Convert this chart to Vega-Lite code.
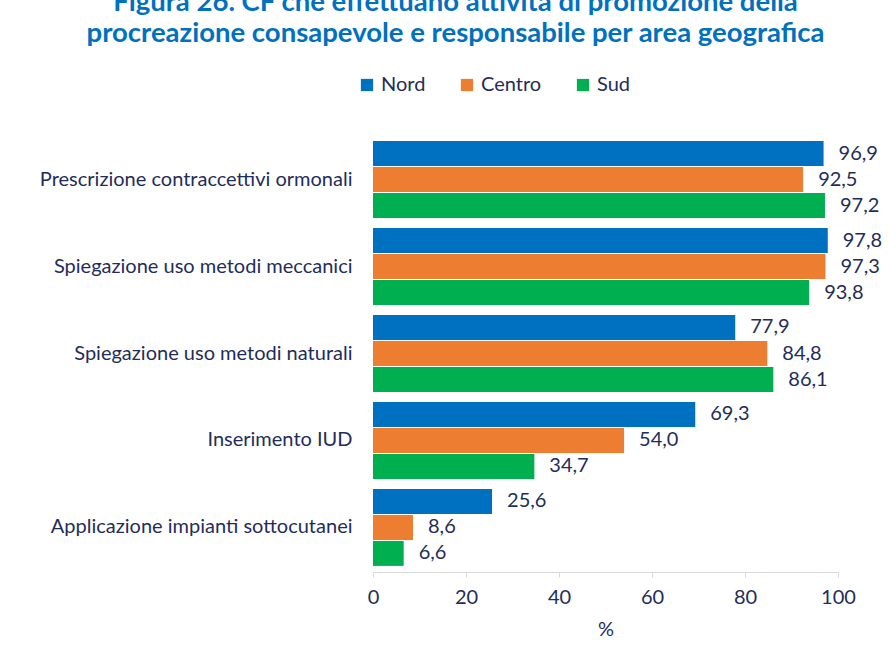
{
  "$schema": "https://vega.github.io/schema/vega-lite/v6.json",
  "autosize": "none",
  "width": 465,
  "height": 437,
  "padding": {"left": 373, "top": 135, "right": 51, "bottom": 85},
  "background": "white",
  "config": {
    "locale": {"number": {"decimal": ",", "thousands": ".", "grouping": [3], "currency": ["€", ""]}},
    "font": "Lato",
    "view": {"stroke": null}
  },
  "title": {
    "text": ["Figura 26. CF che effettuano attività di promozione della", "procreazione consapevole e responsabile per area geografica"],
    "anchor": "middle",
    "frame": "group",
    "dx": -150,
    "offset": 28,
    "fontSize": 27.5,
    "fontWeight": "bold",
    "color": "#0070C0",
    "lineHeight": 31,
    "font": "Lato"
  },
  "data": {
    "values": [
      {"categoria": "Prescrizione contraccettivi ormonali", "area": "Nord", "valore": 96.9},
      {"categoria": "Prescrizione contraccettivi ormonali", "area": "Centro", "valore": 92.5},
      {"categoria": "Prescrizione contraccettivi ormonali", "area": "Sud", "valore": 97.2},
      {"categoria": "Spiegazione uso metodi meccanici", "area": "Nord", "valore": 97.8},
      {"categoria": "Spiegazione uso metodi meccanici", "area": "Centro", "valore": 97.3},
      {"categoria": "Spiegazione uso metodi meccanici", "area": "Sud", "valore": 93.8},
      {"categoria": "Spiegazione uso  metodi naturali ", "area": "Nord", "valore": 77.9},
      {"categoria": "Spiegazione uso  metodi naturali ", "area": "Centro", "valore": 84.8},
      {"categoria": "Spiegazione uso  metodi naturali ", "area": "Sud", "valore": 86.1},
      {"categoria": "Inserimento IUD", "area": "Nord", "valore": 69.3},
      {"categoria": "Inserimento IUD", "area": "Centro", "valore": 54.0},
      {"categoria": "Inserimento IUD", "area": "Sud", "valore": 34.7},
      {"categoria": "Applicazione impianti sottocutanei", "area": "Nord", "valore": 25.6},
      {"categoria": "Applicazione impianti sottocutanei", "area": "Centro", "valore": 8.6},
      {"categoria": "Applicazione impianti sottocutanei", "area": "Sud", "valore": 6.6}
    ]
  },
  "encoding": {
    "y": {
      "field": "categoria",
      "type": "nominal",
      "sort": null,
      "scale": {"paddingInner": 0.115, "paddingOuter": 0.07},
      "axis": {
        "title": null,
        "domain": false,
        "ticks": false,
        "labelPadding": 21,
        "labelFontSize": 20,
        "labelColor": "#1F2D5A",
        "labelFont": "Lato",
        "labelLimit": 400
      }
    },
    "yOffset": {
      "field": "area",
      "type": "nominal",
      "sort": ["Nord", "Centro", "Sud"],
      "scale": {"paddingInner": 0.04, "paddingOuter": 0}
    },
    "x": {
      "field": "valore",
      "type": "quantitative",
      "scale": {"domain": [0, 100], "nice": false},
      "axis": {
        "title": "%",
        "titleFontSize": 20,
        "titleFontWeight": "normal",
        "titleColor": "#1F2D5A",
        "titleFont": "Lato",
        "titlePadding": 12,
        "values": [0, 20, 40, 60, 80, 100],
        "format": "d",
        "grid": false,
        "labelFlush": false,
        "domainColor": "#D9D9D9",
        "tickColor": "#D9D9D9",
        "tickSize": 5,
        "labelPadding": 10,
        "labelFontSize": 20,
        "labelColor": "#1F2D5A",
        "labelFont": "Lato"
      }
    }
  },
  "layer": [
    {
      "mark": {"type": "bar"},
      "encoding": {
        "color": {
          "field": "area",
          "type": "nominal",
          "sort": ["Nord", "Centro", "Sud"],
          "scale": {"domain": ["Nord", "Centro", "Sud"], "range": ["#0070C0", "#ED7D31", "#00B050"]},
          "legend": {
            "title": null,
            "orient": "none",
            "direction": "horizontal",
            "legendX": -16,
            "legendY": -60,
            "symbolType": "square",
            "symbolSize": 150,
            "symbolStrokeWidth": 0,
            "labelFontSize": 20,
            "labelColor": "#1F2D5A",
            "labelFont": "Lato",
            "columnPadding": 31,
            "labelOffset": 4
          }
        }
      }
    },
    {
      "mark": {"type": "text", "align": "left", "dx": 15, "fontSize": 20, "color": "#1F2D5A", "font": "Lato"},
      "encoding": {
        "text": {"field": "valore", "type": "quantitative", "format": ".1f"}
      }
    }
  ]
}
